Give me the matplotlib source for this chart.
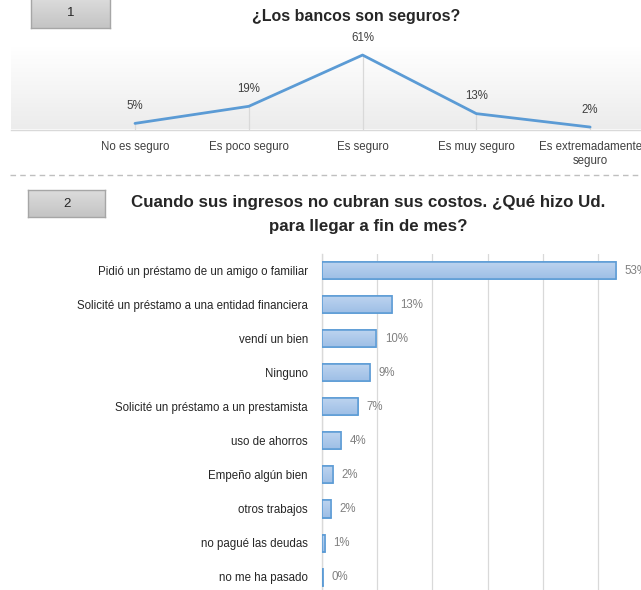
import numpy as np
import matplotlib
matplotlib.use("Agg")
import matplotlib.pyplot as plt
from matplotlib import font_manager
from matplotlib.colors import LinearSegmentedColormap
from matplotlib.lines import Line2D

# ---------------- data ----------------
top_title = "¿Los bancos son seguros?"
top_categories = ["No es seguro", "Es poco seguro", "Es seguro", "Es muy seguro",
                  "Es extremadamente\nseguro"]
top_values = [5, 19, 61, 13, 2]

bar_title = "Cuando sus ingresos no cubran sus costos. ¿Qué hizo Ud.\npara llegar a fin de mes?"
bar_categories = ["Pidió un préstamo de un amigo o familiar",
                  "Solicité un préstamo a una entidad financiera",
                  "vendí un bien",
                  "Ninguno",
                  "Solicité un préstamo a un prestamista",
                  "uso de ahorros",
                  "Empeño algún bien",
                  "otros trabajos",
                  "no pagué las deudas",
                  "no me ha pasado"]
bar_values = [53.3, 12.7, 9.9, 8.7, 6.5, 3.5, 2.1, 1.7, 0.6, 0.2]
bar_ticks = [0, 10, 20, 30, 40, 50, 60]

# ---------------- style ----------------
names = {f.name for f in font_manager.fontManager.ttflist}
FONT = "Liberation Sans Narrow" if "Liberation Sans Narrow" in names else "Liberation Sans"
plt.rcParams["font.family"] = [FONT, "DejaVu Sans"]

W, H = 641, 590
fig = plt.figure(figsize=(W / 100, H / 100), dpi=100)
fig.patch.set_facecolor("white")


def px_axes(x0, y0, x1, y1):
    return fig.add_axes([x0 / W, 1 - y1 / H, (x1 - x0) / W, (y1 - y0) / H])


def fx(x):
    return x / W


def fy(y):
    return 1 - y / H


TXT = "#404040"
GRID = "#D9D9D9"
BLUE = "#5B9BD5"

# ---------------- section boxes ----------------
box_cmap = LinearSegmentedColormap.from_list("box", ["#DCDCDC", "#C4C4C4"])


def section_box(x0, y0, x1, y1, label):
    bax = px_axes(x0, y0, x1, y1)
    bax.imshow(np.linspace(0, 1, 64)[:, None], extent=[0, 1, 0, 1], aspect="auto",
               cmap=box_cmap, origin="upper")
    bax.set_xlim(0, 1)
    bax.set_ylim(0, 1)
    bax.set_xticks([])
    bax.set_yticks([])
    for s in bax.spines.values():
        s.set_color("#A6A6A6")
        s.set_linewidth(1.0)
    fig.text(fx((x0 + x1) / 2), fy((y0 + y1) / 2), label, ha="center", va="center",
             fontsize=9.5, color="#262626")

section_box(31, -2, 110, 28, "1")
section_box(28, 190, 105, 217, "2")

# ---------------- top line chart ----------------
ax1 = px_axes(11, 47, 647, 129.5)
xl = (-1.09, 4.5)
yl = (0, 67.6)
grad = np.linspace(0, 1, 256)[:, None]
cmap = LinearSegmentedColormap.from_list("g", ["#FFFFFF", "#ECECEC"])
ax1.imshow(grad, extent=[xl[0], xl[1], yl[0], yl[1]], aspect="auto", cmap=cmap,
           origin="upper", zorder=0, vmin=0, vmax=1)
x = np.arange(len(top_values))
ax1.vlines(x, 0, top_values, color=GRID, linewidth=0.9, zorder=1)
ax1.plot(x, top_values, color=BLUE, linewidth=2.0, solid_capstyle="round", zorder=3)
for xi, v in zip(x, top_values):
    ax1.annotate(f"{v}%", (xi, v), xytext=(0, 12.5), textcoords="offset points",
                 ha="center", va="center", fontsize=8.3, color=TXT)
ax1.set_xlim(*xl)
ax1.set_ylim(*yl)
ax1.set_xticks(x)
ax1.set_xticklabels(top_categories, fontsize=8.3, color=TXT, linespacing=1.25)
ax1.tick_params(axis="x", length=0, pad=8)
ax1.set_yticks([])
for s in ["top", "left", "right"]:
    ax1.spines[s].set_visible(False)
ax1.spines["bottom"].set_color(GRID)
ax1.spines["bottom"].set_linewidth(1.0)

fig.text(fx(356), fy(17), top_title, ha="center", va="center", fontsize=11.5,
         fontweight="bold", color="#262626")

# dashed separator
fig.add_artist(Line2D([fx(10), fx(641)], [fy(174.5), fy(174.5)], transform=fig.transFigure,
                      color="#BFBFBF", linewidth=1.0, linestyle=(0, (4, 3))))

# ---------------- bar chart ----------------
fig.text(fx(368), fy(214), bar_title, ha="center", va="center", fontsize=12.2,
         fontweight="bold", color="#262626", linespacing=1.75)

ax2 = px_axes(321.7, 254, 653.5, 594)
y = np.arange(len(bar_values))
bars = ax2.barh(y, bar_values, height=0.5, color="#A9C7EA", edgecolor=BLUE,
                linewidth=1.1, zorder=3)
bar_cmap = LinearSegmentedColormap.from_list("bar", ["#BCD3EF", "#9EBFE6"])
for b in bars:
    bx, by = b.get_x(), b.get_y()
    bw, bh = b.get_width(), b.get_height()
    im = ax2.imshow(np.linspace(0, 1, 64)[:, None], extent=[bx, bx + bw, by + bh, by],
                    aspect="auto", cmap=bar_cmap, origin="upper", zorder=3.5)
    im.set_clip_path(b)
for yi, v in zip(y, bar_values):
    ax2.annotate(f"{int(v + 0.5)}%", (v, yi), xytext=(6, 0), textcoords="offset points",
                 ha="left", va="center", fontsize=8.3, color="#808080")
# edges on top of gradient
ax2.barh(y, bar_values, height=0.5, color="none", edgecolor=BLUE, linewidth=1.1, zorder=4)
ax2.set_xlim(bar_ticks[0], bar_ticks[-1])
ax2.set_ylim(len(bar_values) - 0.5, -0.5)
ax2.set_xticks(bar_ticks)
ax2.set_xticklabels([])
ax2.xaxis.grid(True, color=GRID, linewidth=0.9, zorder=0)
ax2.set_axisbelow(True)
ax2.set_yticks(y)
ax2.set_yticklabels(bar_categories, fontsize=8.3, color="#262626")
ax2.tick_params(axis="both", length=0)
ax2.tick_params(axis="y", pad=10)
for s in ["top", "right", "bottom"]:
    ax2.spines[s].set_visible(False)
ax2.spines["left"].set_color(GRID)
ax2.spines["left"].set_linewidth(1.0)

fig.savefig("out.png", dpi=100, facecolor="white")
